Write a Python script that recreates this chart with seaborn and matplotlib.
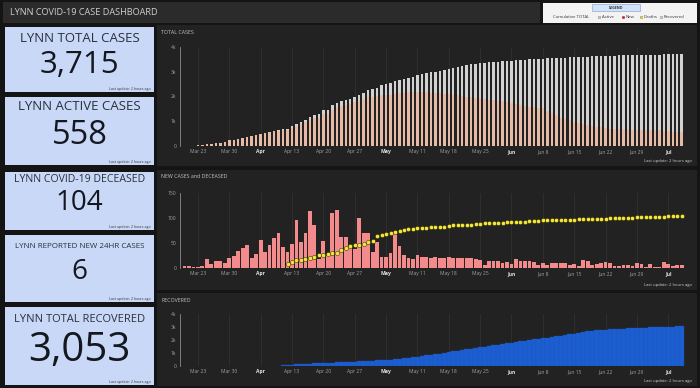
import matplotlib
matplotlib.use('Agg')
import matplotlib.pyplot as plt
from matplotlib.patches import Rectangle
import seaborn as sns
import pandas as pd
import numpy as np

# ---------------- data ----------------
days = list(range(112))  # day 0 = Mar 20 ... day 111 = Jul 9
tick_pos = [3, 10, 17, 24, 31, 38, 45, 52, 59, 66, 73, 80, 87, 94, 101, 108]
tick_labels = ['Mar 23', 'Mar 30', 'Apr', 'Apr 13', 'Apr 20', 'Apr 27', 'May', 'May 11',
               'May 18', 'May 25', 'Jun', 'Jun 8', 'Jun 15', 'Jun 22', 'Jun 29', 'Jul']

total_cases = [10, 15, 20, 30, 50, 70, 85, 110, 140, 180, 230, 260, 300, 340, 370, 400,
               440, 490, 530, 570, 610, 640, 670, 690, 790, 880, 960, 1060, 1180, 1270,
               1290, 1450, 1470, 1640, 1750, 1810, 1870, 1910, 1990, 2060, 2130, 2260,
               2300, 2350, 2470, 2500, 2530, 2610, 2660, 2710, 2760, 2800, 2860, 2900,
               2940, 2970, 3000, 3030, 3080, 3110, 3150, 3210, 3240, 3260, 3300, 3320,
               3340, 3360, 3380, 3400, 3410, 3430, 3440, 3450, 3460, 3480, 3490, 3500,
               3510, 3520, 3530, 3540, 3550, 3555, 3565, 3575, 3585, 3590, 3600, 3605,
               3615, 3625, 3630, 3638, 3645, 3650, 3655, 3658, 3660, 3665, 3670, 3672,
               3680, 3683, 3688, 3692, 3695, 3702, 3705, 3709, 3712, 3715]

active_cases = [10, 15, 20, 30, 50, 70, 85, 110, 140, 180, 230, 260, 300, 340, 370, 400,
                440, 490, 530, 570, 600, 625, 650, 660, 740, 810, 880, 960, 1060, 1130,
                1140, 1300, 1310, 1470, 1560, 1610, 1660, 1700, 1760, 1820, 1880, 1980,
                1990, 2010, 2060, 2070, 2070, 2110, 2130, 2150, 2170, 2190, 2200, 2190,
                2170, 2160, 2150, 2130, 2120, 2100, 2080, 2050, 2020, 2000, 1970, 1950,
                1920, 1900, 1870, 1850, 1820, 1800, 1770, 1740, 1700, 1640, 1600, 1580,
                1560, 1540, 1520, 1400, 1330, 1250, 1150, 1100, 1040, 980, 930, 880, 840,
                800, 780, 750, 720, 700, 690, 680, 675, 670, 665, 660, 655, 650, 645, 640,
                635, 620, 600, 585, 570, 558]

new_cases = [4, 4, 3, 2, 5, 19, 9, 14, 14, 11, 20, 25, 34, 41, 47, 20, 29, 57, 32, 47,
             61, 70, 42, 32, 49, 97, 53, 71, 114, 87, 18, 55, 25, 111, 117, 62, 63, 42,
             39, 100, 71, 71, 33, 52, 23, 22, 31, 69, 45, 27, 20, 19, 27, 22, 23, 20, 23,
             21, 21, 23, 21, 21, 21, 21, 20, 19, 17, 7, 15, 15, 14, 11, 12, 9, 19, 15, 15,
             15, 12, 7, 10, 7, 10, 11, 11, 10, 6, 8, 5, 16, 14, 7, 8, 11, 12, 11, 5, 5, 6,
             7, 4, 10, 9, 3, 9, 3, 3, 12, 9, 4, 7, 6]

death_days = list(range(23, 112))
deaths = [9, 12, 16, 17, 19, 21, 23, 26, 27, 28, 30, 31, 36, 41, 45, 46, 47, 49, 52, 55,
          65, 67, 68, 71, 72, 74, 76, 78, 79, 80, 81, 81, 82, 82, 83, 83, 84,
          86, 86, 86, 87, 87, 88, 88,
          90, 90, 91, 91, 91, 92, 92, 92, 93, 93,
          95, 95, 95, 96, 96, 96, 96, 97, 97, 97, 97, 98, 98, 98, 98,
          99, 99, 99, 100, 100, 100, 100, 101, 101,
          102, 102, 102, 103, 103, 103, 103, 104, 104, 104, 104]

recovered_days = list(range(22, 112))
recovered = [60, 80, 100, 120, 140, 160, 180, 200, 215, 230, 245, 260, 275, 290, 305, 320,
             335, 350, 370, 390, 410, 425, 440, 460, 490, 520, 560, 600, 640, 690, 730,
             770, 810, 860, 910, 960, 1020, 1080, 1130, 1180, 1230, 1280, 1330, 1390, 1440,
             1490, 1540, 1590, 1640, 1690, 1740, 1790, 1840, 1890, 1940, 1990, 2040, 2090,
             2140, 2180, 2230, 2280, 2330, 2380, 2440, 2500, 2560, 2620, 2680, 2720, 2750,
             2780, 2800, 2820, 2840, 2860, 2880, 2900, 2920, 2935, 2950, 2960, 2970, 2980,
             2990, 3000, 3010, 3020, 3040, 3053]

card_titles = ['LYNN TOTAL CASES', 'LYNN ACTIVE CASES', 'LYNN COVID-19 DECEASED',
               'LYNN REPORTED NEW 24HR CASES', 'LYNN TOTAL RECOVERED']
card_values = ['3,715', '558', '104', '6', '3,053']
legend_items = ['Cumulative TOTAL', 'Active', 'New', 'Deaths', 'Recovered']

# ---------------- colours ----------------
C_FIG = '#141414'
C_PANEL = '#222222'
C_CARD = '#c9d8f7'
C_TOTAL = '#d2d2d2'
C_ACTIVE = '#e7baa5'
C_NEW = '#f38a8c'
C_DEATH = '#f3e640'
C_REC = '#1c5ed0'

plt.rcParams['font.family'] = ['Open Sans', 'DejaVu Sans']

W, H = 700, 388
fig = plt.figure(figsize=(7, 3.88), dpi=100, facecolor=C_FIG)
bg = fig.add_axes([0, 0, 1, 1])
bg.set_xlim(0, W)
bg.set_ylim(H, 0)
bg.axis('off')


def rect(x0, y0, x1, y1, color, **kw):
    bg.add_patch(Rectangle((x0, y0), x1 - x0, y1 - y0, facecolor=color,
                           edgecolor=kw.pop('ec', 'none'), **kw))


def fr(x0, y0, x1, y1):
    return [x0 / W, 1 - y1 / H, (x1 - x0) / W, (y1 - y0) / H]


# title bar
rect(3, 2, 540, 23, '#2b2b2b')
bg.text(10, 12.8, 'LYNN COVID-19 CASE DASHBOARD', color='#cfcfcf', fontsize=6.6,
        va='center', ha='left')

# legend box
rect(543, 3, 697, 23, '#f3f3f3')
rect(592, 4, 640, 11, '#d3e3f7', ec='#7a9cc8', lw=0.4)
bg.text(616, 7.6, 'LEGEND', fontsize=2.6, ha='center', va='center', color='#333333',
        fontweight='bold')
leg_x = [553, 602, 626, 644, 664]
leg_mark = [None, C_TOTAL, '#e8202a', '#f2e030', '#d9d9d9']
for lx, lt, lm in zip(leg_x, legend_items, leg_mark):
    if lm is not None:
        bg.scatter([lx - 3], [17], s=4, color=lm, edgecolor='#555555', linewidths=0.2,
                   zorder=3)
    bg.text(lx, 17, lt, fontsize=3.1, ha='left', va='center', color='#333333')

# cards
cards = [(27, 92), (97, 165), (172, 230), (235, 302), (307, 385)]
title_y = [38, 107, 180, 246, 320]
num_y = [65, 135, 203, 272, 351]
num_size = [22.5, 23.5, 20, 20, 29]
fig.canvas.draw()
renderer = fig.canvas.get_renderer()
for (y0, y1), ttl, val, ty, ny, ns in zip(cards, card_titles, card_values, title_y,
                                           num_y, num_size):
    rect(5, y0, 154, y1, C_CARD)
    t = bg.text(79.5, ty, ttl, fontsize=8, ha='center', va='center', color='#2a2f3d')
    w = t.get_window_extent(renderer).width
    t.set_fontsize(min(9.5, 8 * 131 / w))
    bg.text(79.5, ny, val, fontsize=ns, ha='center', va='center', color='#15171f',
            fontweight='medium')
    bg.text(151, y1 - 3, 'Last update: 2 hours ago', fontsize=2.6, ha='right',
            va='center', color='#333333')

# chart panels
panels = [(25, 166), (170, 290), (293, 386)]
panel_titles = ['TOTAL CASES', 'NEW CASES and DECEASED', 'RECOVERED']
for (y0, y1), pt in zip(panels, panel_titles):
    rect(157, y0, 697, y1, C_PANEL)
    bg.text(161, y0 + 7, pt, fontsize=3.8, ha='left', va='center', color='#c4c4c4')
    bg.text(692, y1 - 5, 'Last update: 2 hours ago', fontsize=3.0, ha='right',
            va='center', color='#cfcfcf')

df = pd.DataFrame({'day': days, 'total': total_cases, 'active': active_cases,
                   'new': new_cases})
dd = pd.DataFrame({'day': death_days, 'deaths': deaths})
dr = pd.DataFrame({'day': recovered_days, 'recovered': recovered})


def style(ax, ylim, yt, ytl):
    ax.set_facecolor('none')
    ax.set_xlim(-1, 112.4)
    ax.set_ylim(*ylim)
    ax.set_xticks(tick_pos)
    ax.set_xticklabels(tick_labels)
    ax.set_yticks(yt)
    ax.set_yticklabels(ytl)
    ax.tick_params(length=0, labelsize=3.6, colors='#a0a0a0', pad=2.5)
    for s in ['top', 'right', 'bottom']:
        ax.spines[s].set_visible(False)
    ax.spines['left'].set_color('#8c8c8c')
    ax.spines['left'].set_linewidth(0.6)
    ax.grid(axis='x', color='#343434', lw=0.5)
    ax.grid(axis='y', visible=False)
    ax.set_axisbelow(True)
    ax.set_xlabel('')
    ax.set_ylabel('')
    for t in ax.get_xticklabels():
        if len(t.get_text()) == 3:
            t.set_color('#e6e6e6')
            t.set_fontweight('bold')


ax1 = fig.add_axes(fr(180, 47, 688, 146))
sns.barplot(data=df, x='day', y='total', native_scale=True, color=C_TOTAL, width=0.55,
            errorbar=None, linewidth=0, saturation=1, ax=ax1)
sns.barplot(data=df, x='day', y='active', native_scale=True, color=C_ACTIVE, width=0.55,
            errorbar=None, linewidth=0, saturation=1, ax=ax1)
style(ax1, (0, 4000), [0, 1000, 2000, 3000, 4000], ['0', '1k', '2k', '3k', '4k'])

ax2 = fig.add_axes(fr(180, 193, 688, 268))
sns.barplot(data=df, x='day', y='new', native_scale=True, color=C_NEW, width=0.85,
            errorbar=None, linewidth=0, saturation=1, ax=ax2)
sns.scatterplot(data=dd, x='day', y='deaths', color=C_DEATH, edgecolor='#2a2a00', s=9,
                linewidth=0.35, zorder=5, ax=ax2)
style(ax2, (0, 150), [0, 50, 100, 150], ['0', '50', '100', '150'])

ax3 = fig.add_axes(fr(180, 314, 688, 366))
sns.barplot(data=dr, x='day', y='recovered', native_scale=True, color=C_REC, width=1.0,
            errorbar=None, linewidth=0.25, edgecolor='#1a56bd', saturation=1, ax=ax3)
style(ax3, (0, 4000), [0, 1000, 2000, 3000, 4000], ['0', '1k', '2k', '3k', '4k'])

fig.savefig('out.png', dpi=100, facecolor=C_FIG)
